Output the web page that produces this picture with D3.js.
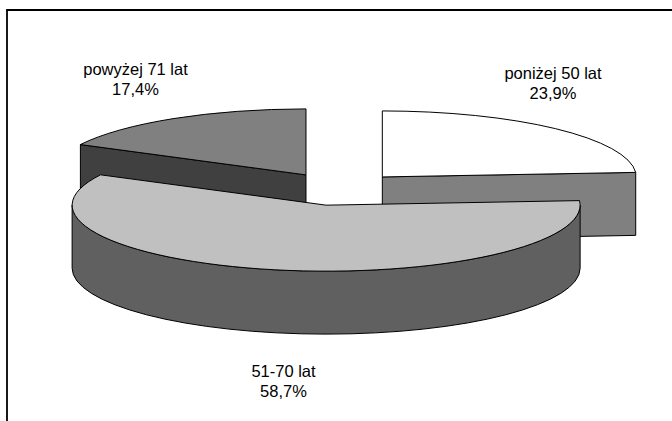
<!DOCTYPE html>
<html>
<head>
<meta charset="utf-8">
<script src="https://cdn.jsdelivr.net/npm/d3@7"></script>
<style>
  body { margin: 0; background: #fff; }
  text { font-family: "Liberation Sans", Arial, sans-serif; fill: #000; }
</style>
</head>
<body>
<svg id="chart" width="672" height="421"></svg>
<script>
// Age groups and their shares (%)
const categories = ["poniżej 50 lat", "51-70 lat", "powyżej 71 lat"];
const shares = [23.9, 58.7, 17.4];
const shareLabels = ["23,9%", "58,7%", "17,4%"];

// Fill colours: top faces and side walls
const topColors = ["#ffffff", "#c0c0c0", "#808080"];
const sideColors = ["#808080", "#606060", "#404040"];

const W = 672, H = 421;
const svg = d3.select("#chart");

// Plot frame (top and left edges)
svg.append("path")
  .attr("d", `M7,${H} L7,10 L${W},10`)
  .attr("fill", "none")
  .attr("stroke", "#000")
  .attr("stroke-width", 1.8);

// 3D pie geometry
const cx = 339, cy = 189;      // pie centre
const rx = 254, ry = 66;       // ellipse radii of the tilted disc
const depth = 63;              // thickness of the disc
const explode = 0.25;          // slice offset, as a fraction of the radius

const pie = d3.pie()
  .sort(null)
  .value(d => d.value)
  .startAngle(0)
  .endAngle(2 * Math.PI);

const slices = pie(categories.map((name, i) => ({ name, value: shares[i], i })));

slices.forEach(s => {
  const mid = (s.startAngle + s.endAngle) / 2;
  s.ox = cx + explode * rx * Math.sin(mid);
  s.oy = cy - explode * ry * Math.cos(mid);
});

function rim(s, a, z) {
  return [s.ox + rx * Math.sin(a), s.oy - ry * Math.cos(a) + z];
}

function topPath(s) {
  const p0 = rim(s, s.startAngle, 0), p1 = rim(s, s.endAngle, 0);
  const large = (s.endAngle - s.startAngle) > Math.PI ? 1 : 0;
  return `M${s.ox},${s.oy} L${p0} A${rx},${ry} 0 ${large} 1 ${p1} Z`;
}

function radialFace(s, a) {
  const p = rim(s, a, 0), q = rim(s, a, depth);
  return `M${s.ox},${s.oy} L${p} L${q} L${s.ox},${s.oy + depth} Z`;
}

function wallPath(s) {
  const a0 = Math.max(s.startAngle, Math.PI / 2);
  const a1 = Math.min(s.endAngle, 3 * Math.PI / 2);
  if (a0 >= a1) return null;
  const p0 = rim(s, a0, 0), p1 = rim(s, a1, 0);
  const q1 = rim(s, a1, depth), q0 = rim(s, a0, depth);
  return `M${p0} A${rx},${ry} 0 0 1 ${p1} L${q1} A${rx},${ry} 0 0 0 ${q0} Z`;
}

// Paint back slices first, front slices last
const order = slices.slice().sort((a, b) => a.oy - b.oy);

const g = svg.append("g")
  .attr("stroke", "#000")
  .attr("stroke-width", 1)
  .attr("stroke-linejoin", "round");

order.forEach(s => {
  const side = sideColors[s.data.i];
  if (Math.sin(s.startAngle) < -1e-9) {
    g.append("path").attr("d", radialFace(s, s.startAngle)).attr("fill", side);
  }
  if (Math.sin(s.endAngle) > 1e-9) {
    g.append("path").attr("d", radialFace(s, s.endAngle)).attr("fill", side);
  }
  const w = wallPath(s);
  if (w) g.append("path").attr("d", w).attr("fill", side);
  g.append("path").attr("d", topPath(s)).attr("fill", topColors[s.data.i]);
});

// Data labels (category name and share)
const labelLayout = [
  { x: 553, y: 79 },
  { x: 283.5, y: 377 },
  { x: 135.5, y: 75 }
];

slices.forEach(s => {
  const i = s.data.i;
  const t = svg.append("text")
    .attr("text-anchor", "middle")
    .attr("font-size", 16.5)
    .attr("x", labelLayout[i].x)
    .attr("y", labelLayout[i].y);
  t.append("tspan").attr("x", labelLayout[i].x).text(categories[i]);
  t.append("tspan").attr("x", labelLayout[i].x).attr("dy", 19.5).text(shareLabels[i]);
});
</script>
</body>
</html>
